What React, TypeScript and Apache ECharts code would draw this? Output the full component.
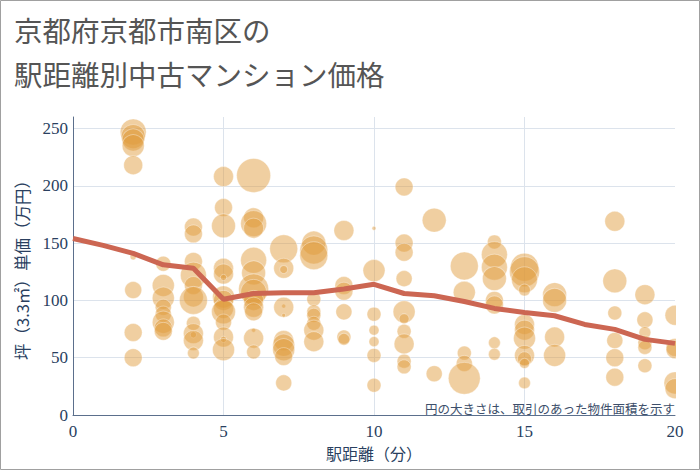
import React, { useEffect, useRef } from "react";
import * as echarts from "echarts";

// Trend line (average price by walking minutes)
const trendMinutes = [0, 1, 2, 3, 4, 5, 6, 7, 8, 9, 10, 11, 12, 13, 14, 15, 16, 17, 18, 19, 20];
const trendPrices = [154, 148, 141, 131, 128, 101, 106, 106.6, 106.6, 110, 114, 106, 104, 99, 93, 89.5, 86.6, 79, 74.7, 66, 62.5];

// Bubbles: walking minutes, unit price (万円/坪), floor area (m²)
const bubbleMinutes = [2, 3, 4, 5, 6, 7, 8, 9, 10, 11, 12, 13, 14, 15, 16, 18, 19, 20];
const bubblePrices = [
  [247, 243, 240, 235, 218, 138, 109, 72, 50],
  [132, 113, 102, 94, 88, 81, 76, 73],
  [164, 158, 134, 122, 113, 103, 100, 80, 71, 70, 65, 54],
  [208, 181, 165, 128, 123, 120, 103, 100, 93, 90, 81, 68, 66, 57],
  [209, 172, 167, 163, 135, 124, 110, 107, 100, 94, 90, 74, 67, 55],
  [145, 128, 127, 95, 94, 87, 65, 61, 57, 51, 28],
  [150, 144, 139, 101, 90, 87, 80, 74, 64],
  [161, 113, 108, 90, 68, 66],
  [163, 126, 88, 74, 64, 52, 26],
  [199, 150, 142, 119, 90, 84, 73, 62, 47, 42],
  [170, 36],
  [130, 107, 54, 45, 32],
  [151, 140, 129, 119, 100, 96, 63, 53],
  [129, 125, 118, 109, 79, 74, 67, 52, 49, 45, 28],
  [105, 100, 68, 52],
  [169, 117, 89, 65, 50, 33],
  [105, 83, 72, 63, 59, 43],
  [87, 59, 57, 28, 23],
];
const bubbleAreas = [
  [86, 73, 62, 62, 46, 5, 37, 41, 41],
  [29, 62, 62, 33, 33, 62, 41, 41],
  [41, 41, 41, 86, 41, 51, 100, 25, 51, 5, 51, 18],
  [51, 41, 73, 51, 51, 5, 62, 51, 51, 73, 33, 51, 5, 62],
  [147, 51, 86, 51, 86, 73, 115, 86, 51, 51, 41, 2, 51, 25],
  [100, 51, 8, 2, 51, 2, 51, 62, 62, 41, 33],
  [73, 100, 100, 25, 25, 25, 25, 51, 51],
  [51, 41, 41, 33, 25, 18],
  [2, 62, 25, 13, 13, 25, 25],
  [41, 41, 41, 33, 62, 13, 25, 51, 25, 25],
  [73, 33],
  [100, 62, 25, 33, 130],
  [25, 86, 86, 73, 41, 41, 18, 18],
  [100, 115, 86, 18, 51, 51, 62, 51, 25, 13, 18],
  [73, 73, 51, 62],
  [51, 73, 25, 33, 41, 41],
  [51, 33, 18, 25, 25, 25],
  [51, 41, 41, 62, 51],
];

const yTicks = [0, 50, 100, 150, 200, 250];
const xTicks = [0, 5, 10, 15, 20];

const titleText = "京都府京都市南区の\n駅距離別中古マンション価格";
const noteText = "円の大きさは、取引のあった物件面積を示す";

const CJK = '"Noto Sans CJK JP", "Noto Sans", sans-serif';
const SERIF = '"Liberation Serif", "DejaVu Serif", serif';
const AXIS_TEXT = "#2a3f5f";

export default function App() {
  const ref = useRef<HTMLDivElement>(null);

  useEffect(() => {
    if (!ref.current) return;
    const chart = echarts.init(ref.current, undefined, { renderer: "svg" });

    const bubbleData: number[][] = [];
    bubbleMinutes.forEach((m, i) => {
      bubblePrices[i].forEach((p, j) => {
        bubbleData.push([m, p, bubbleAreas[i][j]]);
      });
    });

    chart.setOption({
      animation: false,
      backgroundColor: "#ffffff",
      title: {
        text: titleText,
        left: 14,
        top: 7,
        padding: 0,
        textStyle: {
          fontFamily: CJK,
          fontSize: 28.5,
          fontWeight: "normal",
          color: "#555555",
          lineHeight: 44,
        },
      },
      grid: { left: 73, right: 25, top: 117, bottom: 55, containLabel: false },
      xAxis: {
        type: "value",
        min: xTicks[0],
        max: xTicks[xTicks.length - 1],
        interval: 5,
        name: "駅距離（分）",
        nameLocation: "middle",
        nameGap: 27,
        nameTextStyle: { fontFamily: CJK, fontSize: 16, color: AXIS_TEXT },
        axisLine: { show: true, lineStyle: { color: "#5b6f8c", width: 1 } },
        axisTick: { show: false },
        axisLabel: { fontFamily: SERIF, fontSize: 17, color: AXIS_TEXT, margin: 8 },
        splitLine: {
          show: true,
          showMinLine: false,
          showMaxLine: false,
          lineStyle: { color: "#dce3ec", width: 1 },
        },
      },
      yAxis: {
        type: "value",
        min: 0,
        max: 260,
        interval: 50,
        name: "坪（3.3㎡）単価（万円）",
        nameLocation: "middle",
        nameGap: 43,
        nameTextStyle: { fontFamily: CJK, fontSize: 16.5, color: AXIS_TEXT },
        axisLine: { show: true, lineStyle: { color: "#5b6f8c", width: 1 } },
        axisTick: { show: false },
        axisLabel: {
          fontFamily: SERIF,
          fontSize: 17,
          color: AXIS_TEXT,
          margin: 5,
          showMaxLabel: false,
          formatter: (v: number) => (yTicks.includes(v) ? String(v) : ""),
        },
        splitLine: {
          show: true,
          showMinLine: false,
          showMaxLine: false,
          lineStyle: { color: "#dce3ec", width: 1 },
        },
      },
      series: [
        {
          type: "scatter",
          clip: false,
          data: bubbleData,
          symbolSize: (d: number[]) => Math.sqrt(d[2]) * 2.8,
          itemStyle: {
            color: "rgba(224,155,58,0.6)",
            borderColor: "rgba(255,255,255,0.45)",
            borderWidth: 1,
          },
          z: 2,
        },
        {
          type: "line",
          clip: false,
          data: trendMinutes.map((m, i) => [m, trendPrices[i]]),
          showSymbol: false,
          symbol: "none",
          lineStyle: { color: "#cc6652", width: 5 },
          z: 3,
        },
      ],
      graphic: [
        {
          type: "rect",
          shape: { x: 676, y: 95, width: 30, height: 320 },
          style: { fill: "#ffffff" },
          z: 50,
          silent: true,
        },
        {
          type: "text",
          x: 675,
          y: 408,
          style: {
            text: noteText,
            fontFamily: CJK,
            fontSize: 12.5,
            fill: "#3d4f6b",
            align: "right",
            verticalAlign: "middle",
          },
          z: 60,
          silent: true,
        },
        {
          type: "rect",
          shape: { x: 0.5, y: 0.5, width: 699, height: 469 },
          style: { fill: "none", stroke: "#a0a0a0", lineWidth: 1 },
          z: 100,
          silent: true,
        },
      ],
    });

    return () => chart.dispose();
  }, []);

  return (
    <div
      ref={ref}
      style={{ position: "absolute", left: 0, top: 0, width: 700, height: 470 }}
    />
  );
}
